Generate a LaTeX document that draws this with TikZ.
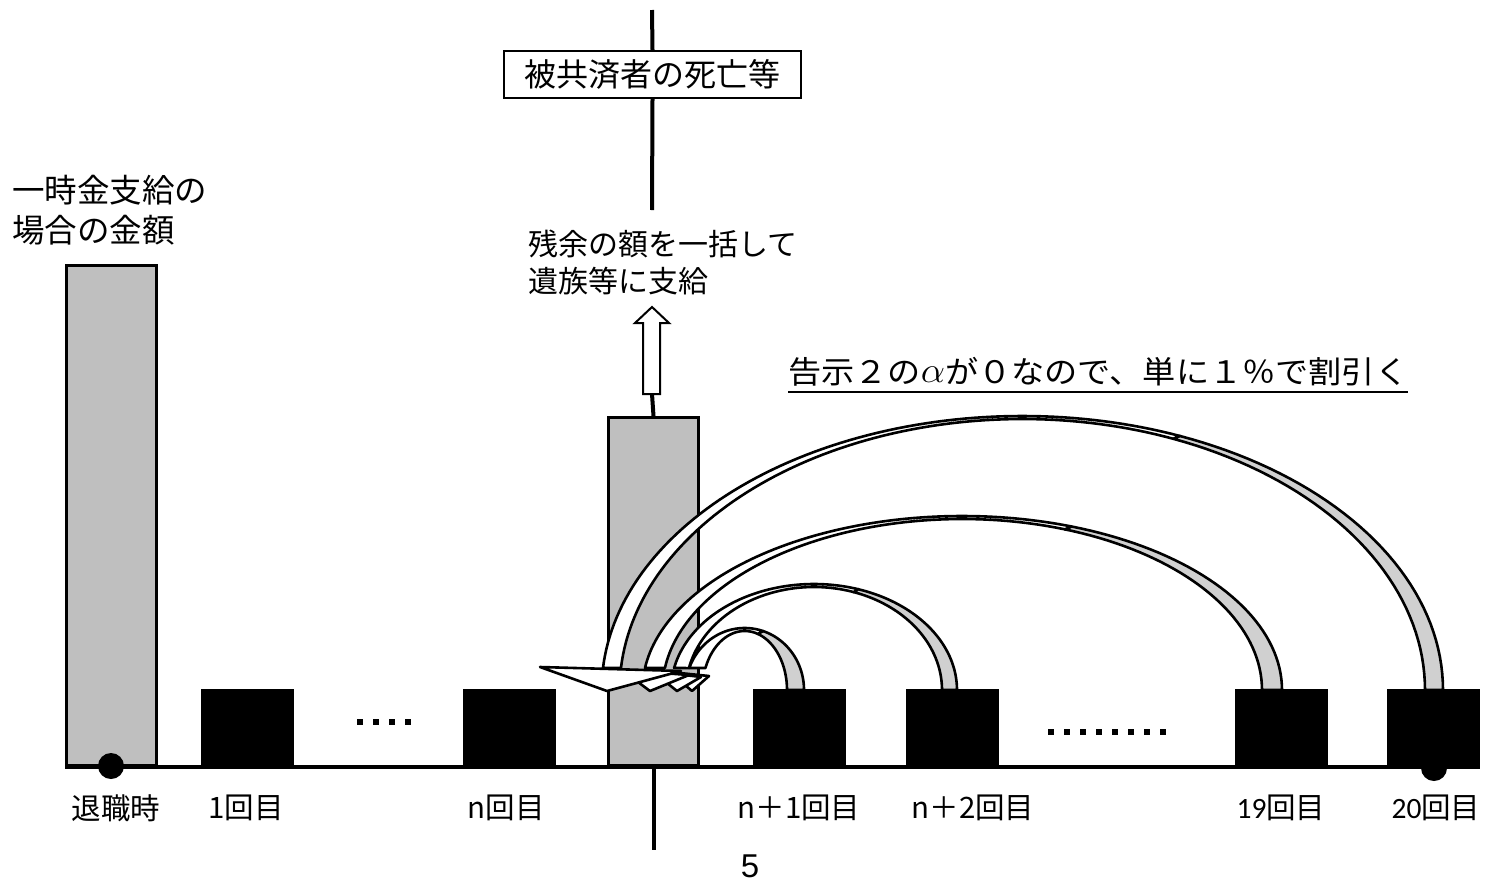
\documentclass[tikz,border=0pt]{standalone}
\usepackage{fontspec}
\setmainfont{Noto Sans CJK JP}
\newfontfamily\carl{Carlito}
\newfontfamily\arialf{Liberation Sans}
\usetikzlibrary{calc}
\definecolor{bargray}{RGB}{191,191,191}
\definecolor{ribgray}{RGB}{208,208,208}
\newcommand\ribbonarrow[8]{%
  \filldraw[ribbon, fill=ribgray]
    plot[domain=0:#8, samples=40] ({#1+#2*cos(\x)},{690+#3*sin(\x)})
    -- plot[domain=#8:0, samples=40] ({#1+#4*cos(\x)},{690+#5*sin(\x)}) -- cycle;
  \filldraw[ribbon, fill=white]
    plot[domain=#8:#6, samples=80] ({#1+#2*cos(\x)},{690+#3*sin(\x)})
    -- plot[domain=#7:#8, samples=80] ({#1+#4*cos(\x)},{690+#5*sin(\x)}) -- cycle;
}
\tikzset{
  bar/.style={draw=black, line width=3pt, fill=bargray, inner sep=0pt, anchor=south west, minimum width=90pt},
  pay/.style={fill=black, draw=black, line width=1pt, inner sep=0pt, minimum width=92pt, minimum height=77pt, anchor=south west},
  ribbon/.style={draw=black, line width=2.6pt, line join=round},
  lbl/.style={font=\fontsize{29.5}{32}\selectfont, inner sep=0pt},
  big/.style={font=\fontsize{31}{40}\selectfont, inner sep=0pt},
  vline/.style={line width=4pt},
}
\begin{document}
\begin{tikzpicture}[x=1pt,y=-1pt]
\useasboundingbox[fill=white] (0,0) rectangle (1486,884);

% bars
\node[bar, minimum height=500pt] (lump) at (65,767) {};
\node[bar, minimum height=348pt] (nbar) at (607,767) {};

% payment boxes
\fill (1434,768) circle[radius=13pt];
\node[pay] (p1) at (201,767) {};
\node[pay] (pn) at (463,767) {};
\node[pay] (pn1) at (753,767) {};
\node[pay] (pn2) at (906,767) {};
\node[pay] (p19) at (1235,767) {};
\node[pay] (p20) at (1387,767) {};

% baseline
\draw[line width=3.5pt] (lump.south west) -- (p20.south east);
\fill (111,766) circle[radius=13pt];

% dots
\foreach \i in {0,...,3} \fill ({357+16*\i},719) rectangle ++(6,6);
\foreach \i in {0,...,7} \fill ({1048+16*\i},729) rectangle ++(5.5,5.5);

% death line and box
\node[draw, line width=1.8pt, minimum width=297pt, minimum height=47pt, font=\fontsize{32}{40}\selectfont, inner sep=0pt] (death) at (652.5,74.5) {被共済者の死亡等};
\coordinate (ltop) at (652,10);
\coordinate (lmid) at (652,210);
\coordinate (arrbase) at (652,394);
\draw[vline] (ltop) -- (death.north);
\draw[vline] (death.south) -- (lmid);
\draw[vline] (nbar.north) -- (arrbase);
\draw[vline] (nbar.south) -- ++(0,83);
\filldraw[fill=white, draw=black, line width=2pt, line join=miter]
  (643,394) -- (643,323) -- (635,323) -- (652,307) -- (669,323) -- (660,323) -- (660,394) -- cycle;

% texts
\node[anchor=west, align=left, inner sep=0pt, font=\fontsize{32.5}{40}\selectfont] (lumptext) at (12,210) {一時金支給の\\場合の金額};
\node[anchor=west, align=left, inner sep=0pt, font=\fontsize{30}{37}\selectfont] (rest) at (528,262) {残余の額を一括して\\遺族等に支給};
\node[big, anchor=west] (note) at (788,372) {\resizebox{620pt}{\height}{告示２の\raisebox{1pt}{\scalebox{1.45}{$\alpha$}}が０なので、単に１％で割引く}};
\draw[line width=2pt] (788,392) -- (1408,392);

\node[lbl] (l0) at (116,808) {退職時};
\node[lbl] (l1) at (246,808) {1回目};
\node[lbl] (ln) at (506,808) {n回目};
\node[lbl] (ln1) at (799,808) {n＋1回目};
\node[lbl] (ln2) at (973,808) {n＋2回目};
\node[lbl] (l19) at (1281,808) {{\carl 19}回目};
\node[lbl] (l20) at (1436,808) {{\carl 20}回目};
\node[inner sep=0pt, font=\arialf\fontsize{33}{36}\selectfont] (pg) at (750,866) {5};

% curved arrows
\ribbonarrow{744.7}{59.3}{62}{42.3}{59}{-159.2}{-158.1}{-72}
\filldraw[ribbon, fill=white] (670,672) -- (709,676) -- (692,691) -- cycle;
\ribbonarrow{814}{143}{106}{128}{103}{-168.0}{-167.7}{-72}
\filldraw[ribbon, fill=white] (652,671) -- (701,677) -- (677,691) -- cycle;
\ribbonarrow{962.2}{319.8}{174}{299.8}{171}{-172.7}{-172.6}{-70}
\filldraw[ribbon, fill=white] (622,670) -- (689,675) -- (650,691) -- cycle;
\ribbonarrow{1022.3}{420.7}{274}{402.7}{271}{-175.4}{-175.3}{-68}
\filldraw[ribbon, fill=white] (540,667) -- (681,671) -- (607,691) -- cycle;
\end{tikzpicture}
\end{document}
